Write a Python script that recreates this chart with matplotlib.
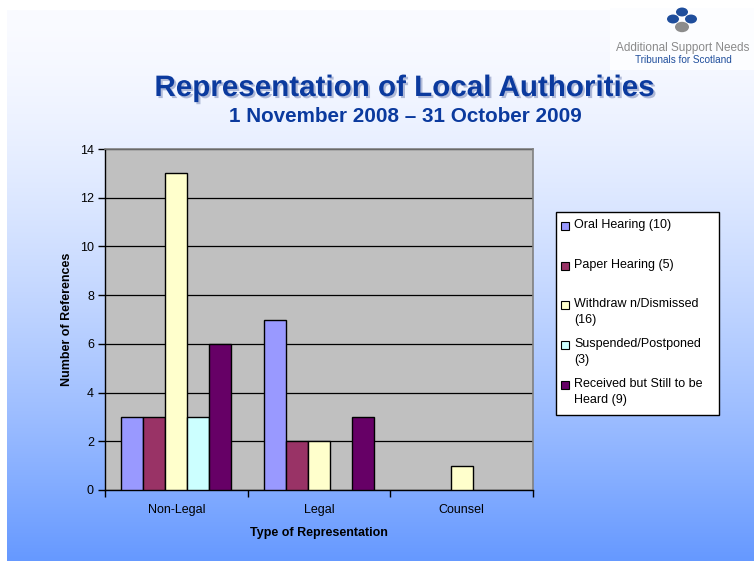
import numpy as np
import matplotlib
matplotlib.use("Agg")
import matplotlib.pyplot as plt
from matplotlib.patches import Rectangle, Circle
import matplotlib.patheffects as pe

plt.rcParams['font.family'] = ['Liberation Sans', 'DejaVu Sans']

categories = ["Non-Legal", "Legal", "Counsel"]
series_names = ["Oral Hearing (10)", "Paper Hearing (5)", "Withdraw n/Dismissed\n(16)",
                "Suspended/Postponed\n(3)", "Received but Still to be\nHeard (9)"]
oral = [3, 7, 0]
paper = [3, 2, 0]
withdrawn = [13, 2, 1]
suspended = [3, 0, 0]
received = [6, 3, 0]
series_values = [oral, paper, withdrawn, suspended, received]
colors = ["#9999FF", "#993366", "#FFFFCC", "#CCFFFF", "#660066"]
yticks = [0, 2, 4, 6, 8, 10, 12, 14]

W, H = 754, 561
fig = plt.figure(figsize=(W / 100, H / 100), dpi=100)
fig.patch.set_facecolor("white")

def fx(x):
    return x / W

def fy(y):
    return 1 - y / H

# background gradient
bg = fig.add_axes([fx(7), 0, 1 - fx(7), fy(10)], zorder=0)
t = np.linspace(0, 1, 256) ** 1.5
top = np.array([250, 251, 255]) / 255
bot = np.array([102, 153, 255]) / 255
grad = top[None, :] * (1 - t[:, None]) + bot[None, :] * t[:, None]
bg.imshow(grad[:, None, :], aspect="auto", extent=[0, 1, 0, 1], origin="upper")
bg.set_axis_off()

# chart
ax = fig.add_axes([fx(105), 1 - 490 / H, (533 - 105) / W, (490 - 149) / H], zorder=2)
ax.set_facecolor("#C0C0C0")
x = np.arange(len(categories))
bw = 0.154
for i, (name, vals, c) in enumerate(zip(series_names, series_values, colors)):
    v = np.array(vals, dtype=float)
    v = np.where(v > 0, v, np.nan)
    ax.bar(x + (i - 2) * bw, v, width=bw, color=c, edgecolor="black", linewidth=1.0, zorder=3)

ax.set_xlim(-0.5, 2.5)
ax.set_ylim(0, 14)
ax.set_yticks(yticks)
ax.yaxis.grid(True, color="black", linewidth=0.9, zorder=1)
ax.set_axisbelow(True)
ax.set_xticks(x)
ax.set_xticklabels(categories, fontsize=9)
ax.set_xticks([-0.5, 0.5, 1.5, 2.5], minor=True)
ax.tick_params(axis="x", which="major", length=0, pad=10)
ax.tick_params(axis="x", which="minor", length=5, width=1, direction="out")
ax.tick_params(axis="y", length=5, width=1, labelsize=9, pad=3)
for s in ["top", "right"]:
    ax.spines[s].set_color("#808080")
    ax.spines[s].set_linewidth(1.2)
for s in ["left", "bottom"]:
    ax.spines[s].set_color("black")
    ax.spines[s].set_linewidth(1.0)
ax.set_xlabel("Type of Representation", fontsize=9, fontweight="bold", labelpad=8)
ax.set_ylabel("Number of References", fontsize=9, fontweight="bold", labelpad=5)

# titles
title_color = "#0B3A9E"
shadow = [pe.SimplePatchShadow(offset=(1.5, -1.5), shadow_rgbFace="#B0BAD8", alpha=1.0),
          pe.Normal()]
fig.text(fx(405), fy(88), "Representation of Local Authorities", fontsize=21.3,
         fontweight="bold", color=title_color, ha="center", va="center", zorder=4,
         path_effects=shadow)
fig.text(fx(405), fy(117), "1 November 2008 \u2013 31 October 2009", fontsize=14.9,
         fontweight="bold", color=title_color, ha="center", va="center", zorder=4)

# legend (manual)
lx0, ly0, lx1, ly1 = 556, 212, 719, 415
fig.patches.append(Rectangle((fx(lx0), fy(ly1)), fx(lx1 - lx0), (ly1 - ly0) / H,
                             transform=fig.transFigure, facecolor="white",
                             edgecolor="black", linewidth=1.0, zorder=5))
row_y = [226, 266, 305, 345, 385]
for name, c, yy in zip(series_names, colors, row_y):
    fig.patches.append(Rectangle((fx(561), fy(yy + 4)), fx(8), 8 / H, transform=fig.transFigure,
                                 facecolor=c, edgecolor="black", linewidth=0.8, zorder=6))
    fig.text(fx(574), fy(yy - 7), name, fontsize=9, ha="left", va="top",
             linespacing=1.45, zorder=6)

# logo
fig.patches.append(Rectangle((fx(610), fy(70)), fx(144), 62 / H, transform=fig.transFigure,
                             facecolor="#FCFDFF", edgecolor="none", zorder=5))
for cx, cy, r, col in [(682, 12, 6, "#1F4E9C"), (673, 19, 6, "#1F4E9C"),
                       (691, 19, 6, "#1F4E9C"), (682, 27, 7, "#8C8C8C")]:
    fig.patches.append(Circle((fx(cx), fy(cy)), fx(r), transform=fig.transFigure,
                              facecolor=col, edgecolor="none", zorder=6))
fig.text(fx(683), fy(48), "Additional Support Needs", fontsize=8.5, color="#8A8A8A",
         ha="center", va="center", zorder=7)
fig.text(fx(683), fy(60), "Tribunals for Scotland", fontsize=7.2, color="#1F4E9C",
         ha="center", va="center", zorder=7)

fig.savefig("out.png", dpi=100)
